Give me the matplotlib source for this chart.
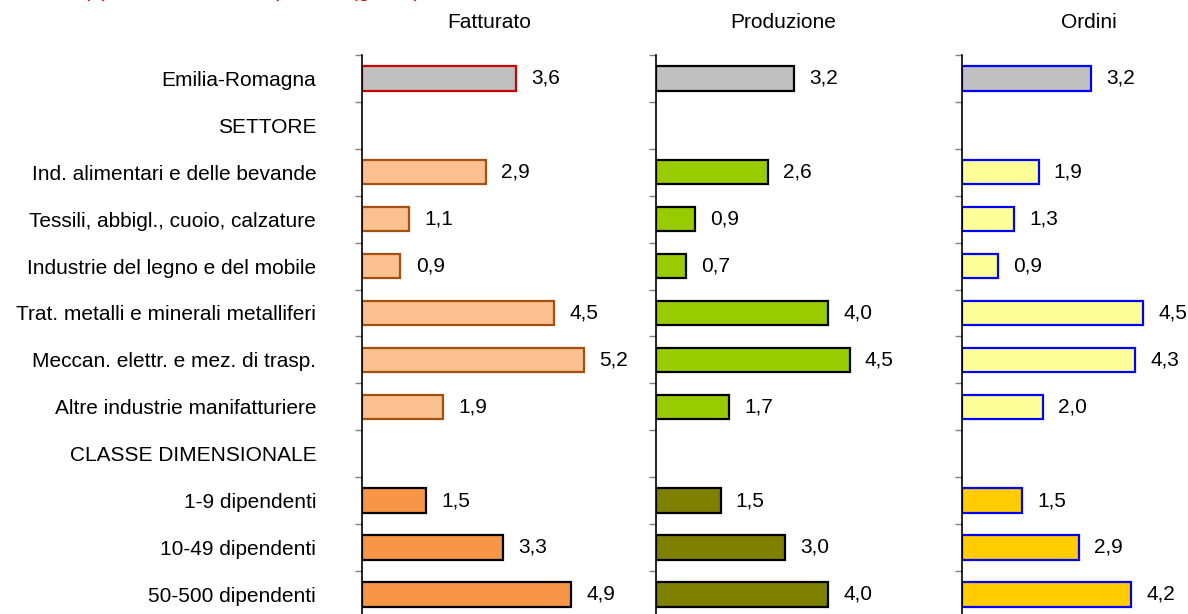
import numpy as np
import matplotlib
matplotlib.use("Agg")
import matplotlib.pyplot as plt

plt.rcParams['font.family'] = ['Liberation Sans', 'DejaVu Sans']

categorie = ["Emilia-Romagna", "SETTORE", "Ind. alimentari e delle bevande",
             "Tessili, abbigl., cuoio, calzature", "Industrie del legno e del mobile",
             "Trat. metalli e minerali metalliferi", "Meccan. elettr. e mez. di trasp.",
             "Altre industrie manifatturiere", "CLASSE DIMENSIONALE",
             "1-9 dipendenti", "10-49 dipendenti", "50-500 dipendenti"]
fatturato = [3.6, None, 2.9, 1.1, 0.9, 4.5, 5.2, 1.9, None, 1.5, 3.3, 4.9]
produzione = [3.2, None, 2.6, 0.9, 0.7, 4.0, 4.5, 1.7, None, 1.5, 3.0, 4.0]
ordini = [3.2, None, 1.9, 1.3, 0.9, 4.5, 4.3, 2.0, None, 1.5, 2.9, 4.2]
titoli = ["Fatturato", "Produzione", "Ordini"]
nota = "(1) Var. % su stesso periodo (grezzi)"

# gruppo di ogni riga: 0 = regione, 1 = settore, 2 = classe
gruppo = [0, None, 1, 1, 1, 1, 1, 1, None, 2, 2, 2]

stili = [
    # (fill, edge) per gruppo
    [("#C0C0C0", "#CC0000"), ("#FAC090", "#A5500F"), ("#F79646", "#000000")],
    [("#C0C0C0", "#000000"), ("#99CC00", "#000000"), ("#808000", "#000000")],
    [("#C0C0C0", "#0000FF"), ("#FFFF99", "#0000FF"), ("#FFCC00", "#0000FF")],
]

W, H = 1188, 614
fs = 15
fig = plt.figure(figsize=(W / 100, H / 100), dpi=100)

# pannelli in pixel: (sinistra, larghezza, xmax)
pannelli = [(362, 280, 6.56), (656, 280, 6.51), (962, 226, 5.61)]
top = 55
row_h = 46.9
n = len(categorie)
bottom = top + n * row_h

serie = [fatturato, produzione, ordini]
for k, (x0, w, xmax) in enumerate(pannelli):
    ax = fig.add_axes([x0 / W, (H - bottom) / H, w / W, (bottom - top) / H])
    vals = serie[k]
    y = np.arange(n)
    for i, v in enumerate(vals):
        if v is None:
            continue
        fc, ec = stili[k][gruppo[i]]
        ax.barh(y[i], v, height=0.52, color=fc, edgecolor=ec, linewidth=1.6)
        ax.annotate(f"{v:.1f}".replace(".", ","), (v, y[i]), xytext=(11, 0),
                    textcoords="offset points", va="center", ha="left", fontsize=fs)
    ax.set_xlim(0, xmax)
    ax.set_ylim(n - 0.5, -0.5)
    for s in ["top", "right", "bottom"]:
        ax.spines[s].set_visible(False)
    ax.spines["left"].set_linewidth(1.2)
    ax.set_xticks([])
    ax.set_yticks(np.arange(n + 1) - 0.5)
    ax.set_yticklabels([])
    ax.tick_params(axis="y", which="major", length=5, color="#808080", width=1)
    if k == 0:
        ax.set_yticks(y, minor=True)
        ax.set_yticklabels(categorie, minor=True, fontsize=fs)
        ax.tick_params(axis="y", which="minor", length=0, pad=33)
    fig.text((x0 + 127) / W, 1 - 22 / H, titoli[k], ha="center", va="center", fontsize=fs)

# nota in alto, tagliata dal bordo come nell'originale
fig.text(85 / W, 1 + 3 / H, nota, color="#CC0000", style="italic",
         fontsize=fs, ha="left", va="baseline")

fig.savefig("out.png", dpi=100)
